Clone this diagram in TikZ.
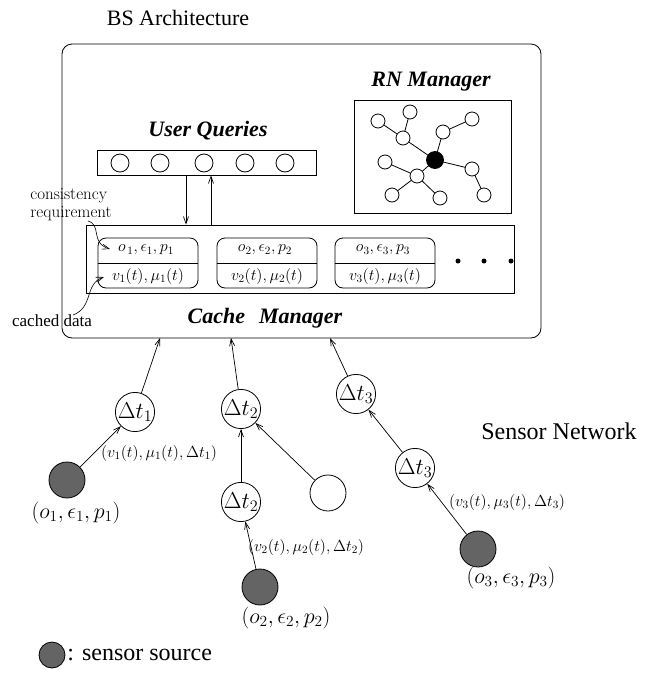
\documentclass[tikz,border=0pt]{standalone}
\usepackage{fix-cm}
\usepackage{fontspec}
\newfontfamily\tnr{Liberation Serif}
\usetikzlibrary{arrows.meta}
\definecolor{sensorgray}{RGB}{100,100,100}
\begin{document}
\begin{tikzpicture}[x=1pt,y=-1pt,
  line width=0.8pt,
  arr/.style={-{Straight Barb[length=7pt,width=5pt]}, line width=0.7pt},
  dnode/.style={circle, draw, fill=white, minimum size=36pt, inner sep=0pt, font=\fontsize{23}{25}\selectfont},
  snode/.style={circle, draw, fill=sensorgray, minimum size=36pt, inner sep=0pt},
  rnw/.style={circle, draw, fill=white, minimum size=14pt, inner sep=0pt},
  rnb/.style={circle, draw, fill=black, minimum size=17pt, inner sep=0pt},
  uqc/.style={circle, draw, minimum size=18pt, inner sep=0pt},
  boxlbl/.style={font=\tnr\bfseries\itshape\fontsize{22}{24}\selectfont},
  bigtxt/.style={font=\tnr\fontsize{24}{26}\selectfont},
  mlbl/.style={font=\fontsize{16}{18}\selectfont, inner sep=0pt},
  olbl/.style={font=\fontsize{22}{24}\selectfont, inner sep=0pt},
  entry/.style={draw, rounded corners=8pt, minimum width=100pt, minimum height=50pt, inner sep=0pt},
  dot/.style={circle, fill=black, minimum size=5pt, inner sep=0pt}
]
\useasboundingbox (0,0) rectangle (650,673);

% title
\node[font=\tnr\fontsize{22}{24}\selectfont] (title) at (178,18) {BS Architecture};

% outer box
\node[draw, rounded corners=10pt, minimum width=479pt, minimum height=294pt, inner sep=0pt] (outer) at (301.5,191) {};

% RN manager
\node[boxlbl] (rnlbl) at (431,82) {RN Manager};
\node[draw, minimum width=157pt, minimum height=113pt, inner sep=0pt] (rnbox) at (432.5,156.5) {};
\draw (378,121) -- (403,138) -- (435,160);
\draw (410,112) -- (403,138);
\draw (472,119) -- (443,132) -- (435,160);
\draw (435,160) -- (472,169) -- (484,195);
\draw (435,160) -- (417,176);
\draw (385,162) -- (417,176) -- (440,198);
\draw (392,195) -- (417,176);
\node[rnb] (c) at (435,160) {};
\node[rnw] (n1) at (378,121) {};
\node[rnw] (n2) at (410,112) {};
\node[rnw] (n3) at (403,138) {};
\node[rnw] (n4) at (472,119) {};
\node[rnw] (n5) at (443,132) {};
\node[rnw] (n6) at (385,162) {};
\node[rnw] (n7) at (417,176) {};
\node[rnw] (n8) at (472,169) {};
\node[rnw] (n9) at (392,195) {};
\node[rnw] (n10) at (440,198) {};
\node[rnw] (n11) at (484,195) {};

% User queries
\node[boxlbl] (uqlbl) at (208,131) {User Queries};
\node[draw, minimum width=219pt, minimum height=25pt, inner sep=0pt] (uq) at (206.5,162.5) {};
\node[uqc] (q1) at (120,163) {};
\node[uqc] (q2) at (160,163) {};
\node[uqc] (q3) at (204,163) {};
\node[uqc] (q4) at (245,163) {};
\node[uqc] (q5) at (285,163) {};

% cache manager
\node[draw, minimum width=428pt, minimum height=68pt, inner sep=0pt] (cm) at (300,259) {};
\draw[arr] ([xshift=-20.5pt]uq.south) -- ([xshift=-20.5pt]uq.south |- cm.north);
\draw[arr] ([xshift=4.5pt]uq.south |- cm.north) -- ([xshift=4.5pt]uq.south);

\node[entry] (e1) at (148,263) {};
\node[entry] (e2) at (267,263) {};
\node[entry] (e3) at (385,263) {};
\draw (e1.west) -- (e1.east);
\draw (e2.west) -- (e2.east);
\draw (e3.west) -- (e3.east);
\node[mlbl] (e1t) at (146,250) {$o_{\,1}, \epsilon_1, p_1$};
\node[mlbl] (e1b) at (148,276) {$v_1(t), \mu_1(t)$};
\node[mlbl] (e2t) at (265,250) {$o_2, \epsilon_2, p_2$};
\node[mlbl] (e2b) at (267,276) {$v_2(t), \mu_2(t)$};
\node[mlbl] (e3t) at (383,250) {$o_3, \epsilon_3, p_3$};
\node[mlbl] (e3b) at (385,276) {$v_3(t), \mu_3(t)$};
\node[dot] (dot1) at (458,261) {};
\node[dot] (dot2) at (484,261) {};
\node[dot] (dot3) at (511,261) {};

\node[boxlbl] (cmlbl) at (265,318) {Cache\hspace{14pt}Manager};

% side notes
\node[font=\fontsize{17}{18}\selectfont, align=left, anchor=north west, inner sep=0pt] (cons) at (30,188) {consistency\\requirement};
\coordinate (consend) at (88,221);
\draw[arr, line width=0.6pt] (consend) .. controls (102,225) and (90,243) .. (110,249);
\node[font=\tnr\fontsize{17}{18}\selectfont, inner sep=0pt] (cached) at (52,321) {cached data};
\coordinate (cachedend) at (73,315);
\draw[arr, line width=0.6pt] (cachedend) .. controls (94,307) and (84,284) .. (104,277);

% sensor network
\node[bigtxt] (snlbl) at (559,431) {Sensor Network};

\node[dnode] (d1) at (135,412) {$\Delta t_1$};
\node[dnode] (d2a) at (241,409) {$\Delta t_2$};
\node[dnode] (d2b) at (241,502) {$\Delta t_2$};
\node[dnode] (w) at (328,493) {};
\node[dnode] (d3a) at (356,394) {$\Delta t_3$};
\node[dnode] (d3b) at (415,468) {$\Delta t_3$};
\node[snode] (s1) at (67,480) {};
\node[snode] (s2) at (260,587) {};
\node[snode] (s3) at (478,549) {};

\coordinate (t1) at (160,338);
\coordinate (t2) at (231,338);
\coordinate (t3) at (330,338);
\draw[arr] (d1) -- (t1);
\draw[arr] (d2a) -- (t2);
\draw[arr] (d3a) -- (t3);
\draw[arr] (s1) -- (d1);
\draw[arr] (d2b) -- (d2a);
\draw[arr] (w) -- (d2a);
\draw[arr] (s2) -- (d2b);
\draw[arr] (d3b) -- (d3a);
\draw[arr] (s3) -- (d3b);

\node[mlbl] (l1) at (159,453) {$(v_1(t), \mu_1(t), \Delta t_1)$};
\node[olbl] (o1) at (76,513) {$(o_1, \epsilon_1, p_1)$};
\node[mlbl] (l2) at (306,547) {$(v_2(t), \mu_2(t), \Delta t_2)$};
\node[olbl] (o2) at (286,618) {$(o_2, \epsilon_2, p_2)$};
\node[mlbl] (l3) at (507,502) {$(v_3(t), \mu_3(t), \Delta t_3)$};
\node[olbl] (o3) at (511,578) {$(o_3, \epsilon_3, p_3)$};

% legend
\node[circle, draw, fill=sensorgray, minimum size=26pt, inner sep=0pt] (leg) at (52,655) {};
\node[bigtxt, anchor=west, inner sep=0pt] (legt) at (67,655) {: sensor source};
\end{tikzpicture}
\end{document}
